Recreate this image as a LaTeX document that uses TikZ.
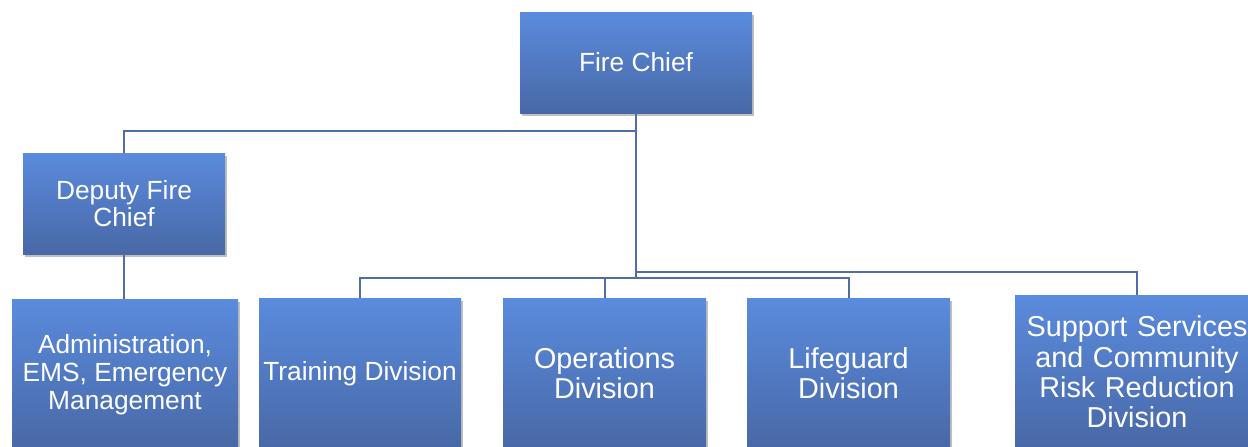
\documentclass[tikz,border=0pt]{standalone}
\usepackage{fontspec}
\setmainfont{Liberation Sans}
\usetikzlibrary{shadows}
\definecolor{boxtop}{RGB}{90,139,221}
\definecolor{boxbot}{RGB}{72,104,166}
\definecolor{conncol}{RGB}{80,110,166}
\tikzset{
  orgbox/.style={rectangle, inner sep=2pt, top color=boxtop, bottom color=boxbot,
    draw=none, text=white, align=center,
    drop shadow={shadow xshift=2pt, shadow yshift=-3pt, opacity=0.25, fill=black}},
  smalltext/.style={font=\fontsize{26.3}{27.8}\selectfont},
  bigtext/.style={font=\fontsize{28.8}{30.2}\selectfont},
  conn/.style={draw=conncol, line width=2pt}
}
\begin{document}
\begin{tikzpicture}[x=1pt,y=-1pt]
\useasboundingbox (0,0) rectangle (1248,447);
\fill[white] (0,0) rectangle (1248,447);
\clip (0,0) rectangle (1248,447);
% nodes
\node[orgbox, smalltext, minimum width=232pt, minimum height=101pt] (fc) at (636,62.5) {Fire Chief};
\node[orgbox, smalltext, minimum width=202pt, minimum height=101pt] (dep) at (124,203.5) {Deputy Fire\\Chief};
\node[orgbox, smalltext, minimum width=226pt, minimum height=151pt] (adm) at (125,374.5) {Administration,\\EMS, Emergency\\Management};
\node[orgbox, smalltext, minimum width=202pt, minimum height=151pt] (trn) at (360,373.5) {Training Division};
\node[orgbox, bigtext, minimum width=203pt, minimum height=151pt] (ops) at (604.5,373.5) {Operations\\Division};
\node[orgbox, bigtext, minimum width=203pt, minimum height=151pt] (lif) at (848.5,373.5) {Lifeguard\\Division};
\node[orgbox, bigtext, minimum width=244pt, minimum height=154pt, text width=228pt] (sup) at (1137,372) {Support Services\\and Community\\Risk Reduction\\Division};
% bus coordinates
\coordinate (busdep) at (636,131);
\coordinate (bushi) at (636,272);
\coordinate (buslo) at (636,278);
% connectors
\draw[conn] (fc.south) -- (buslo);
\draw[conn] (busdep) -| (dep.north);
\draw[conn] (dep.south) -- (dep.south |- adm.north);
\draw[conn] (bushi) -| (sup.north);
\draw[conn] (buslo) -| (trn.north);
\draw[conn] (buslo) -| (ops.north);
\draw[conn] (buslo) -| (lif.north);
\end{tikzpicture}
\end{document}
